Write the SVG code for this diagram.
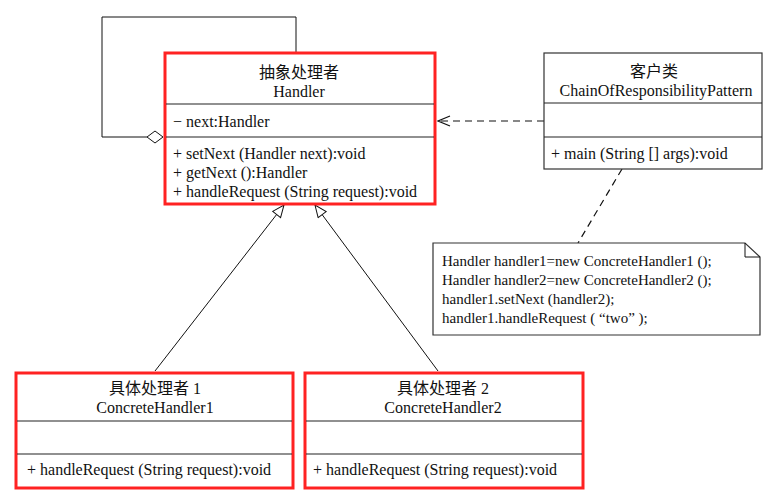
<svg xmlns="http://www.w3.org/2000/svg" width="779" height="497" viewBox="0 0 779 497">
<style>
text{font-family:"Liberation Serif","Noto Sans CJK SC",serif;font-size:16px;fill:#111}
.n{font-size:15px}
.c{text-anchor:middle}
.box{fill:#fff;stroke:#f22;stroke-width:3}
.bbox{fill:#fff;stroke:#333;stroke-width:1.2}
.div{stroke:#222;stroke-width:1.2}
.ln{fill:none;stroke:#111;stroke-width:1}
.dash{fill:none;stroke:#111;stroke-width:1.2;stroke-dasharray:7,5}
</style>
<defs>
<marker id="tri" markerWidth="14" markerHeight="14" refX="13" refY="6" orient="auto" markerUnits="userSpaceOnUse">
<path d="M1,1 L13,6 L1,11 Z" fill="#fff" stroke="#111" stroke-width="1"/>
</marker>
<marker id="open" markerWidth="14" markerHeight="14" refX="13" refY="6" orient="auto" markerUnits="userSpaceOnUse">
<path d="M1,1 L13,6 L1,11" fill="none" stroke="#111" stroke-width="1.2"/>
</marker>
</defs>
<g id="connectors">
<path class="ln" d="M296,53 L296,17 L102,17 L102,137 L147,137"/>
<path d="M147,137 L155,131 L163,137 L155,143 Z" fill="#fff" stroke="#111" stroke-width="1"/>
<line class="dash" x1="544" y1="121" x2="438" y2="121" marker-end="url(#open)"/>
<line class="dash" x1="622" y1="169" x2="578" y2="243"/>
<line class="ln" x1="155" y1="371" x2="284" y2="205" marker-end="url(#tri)"/>
<line class="ln" x1="438" y1="371" x2="315" y2="205" marker-end="url(#tri)"/>
</g>
<g id="handler">
<rect class="box" x="165" y="53" width="270" height="151"/>
<line class="div" x1="166" y1="104" x2="434" y2="104"/>
<line class="div" x1="166" y1="137" x2="434" y2="137"/>
<text class="c" x="299" y="78">抽象处理者</text>
<text class="c" x="299" y="97">Handler</text>
<text x="173" y="127">− next:Handler</text>
<text x="173" y="159">+ setNext (Handler next):void</text>
<text x="173" y="178">+ getNext ():Handler</text>
<text x="173" y="197">+ handleRequest (String request):void</text>
</g>
<g id="client">
<rect class="bbox" x="544" y="53" width="218" height="116"/>
<line class="div" x1="544" y1="103" x2="762" y2="103"/>
<line class="div" x1="544" y1="137" x2="762" y2="137"/>
<text class="c" x="654" y="77">客户类</text>
<text class="c" x="656" y="96">ChainOfResponsibilityPattern</text>
<text x="551" y="159">+ main (String [] args):void</text>
</g>
<g id="note">
<path class="bbox" d="M433,243 L745,243 L760,257 L760,335 L433,335 Z"/>
<path class="ln" d="M745,243 L745,257 L760,257"/>
<text class="n" x="442" y="266">Handler handler1=new ConcreteHandler1 ();</text>
<text class="n" x="442" y="285">Handler handler2=new ConcreteHandler2 ();</text>
<text class="n" x="442" y="304">handler1.setNext (handler2);</text>
<text class="n" x="442" y="323">handler1.handleRequest ( “two” );</text>
</g>
<g id="concrete1">
<rect class="box" x="16" y="373" width="277" height="115"/>
<line class="div" x1="17" y1="421" x2="292" y2="421"/>
<line class="div" x1="17" y1="454" x2="292" y2="454"/>
<text class="c" x="155" y="394">具体处理者 1</text>
<text class="c" x="155" y="413">ConcreteHandler1</text>
<text x="27" y="475">+ handleRequest (String request):void</text>
</g>
<g id="concrete2">
<rect class="box" x="305" y="373" width="278" height="115"/>
<line class="div" x1="306" y1="421" x2="582" y2="421"/>
<line class="div" x1="306" y1="454" x2="582" y2="454"/>
<text class="c" x="443" y="394">具体处理者 2</text>
<text class="c" x="443" y="413">ConcreteHandler2</text>
<text x="313" y="475">+ handleRequest (String request):void</text>
</g>
</svg>
